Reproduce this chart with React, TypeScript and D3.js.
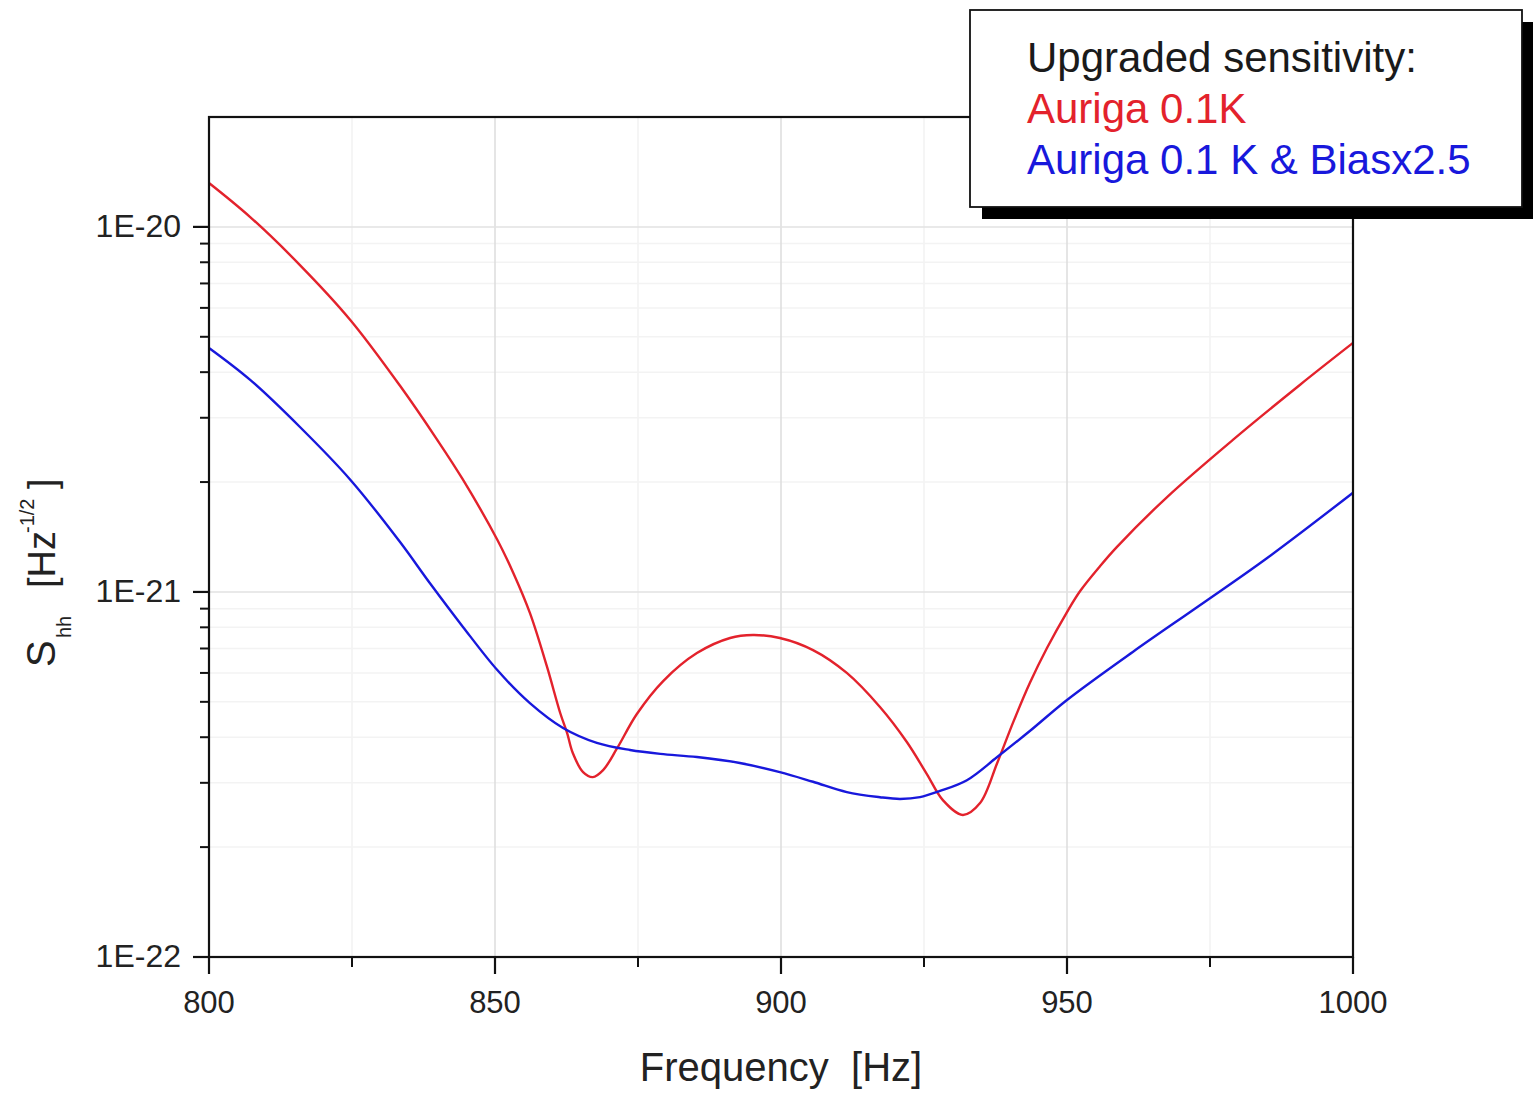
import React from "react";
import * as d3 from "d3";

const redFreq = [800, 807.2, 815.9, 824.7, 833.4, 839.9, 844.4, 850.4, 853.2, 856.1, 859.1, 861.4, 862.6, 863.6, 865.4, 867.1, 868.9, 871.3, 874.8, 879.4, 885.3, 891.1, 895.1, 899.8, 905.6, 911.5, 917.3, 922.0, 925.5, 928.3, 931.8, 934.8, 937.8, 940.6, 943.5, 946.5, 950.0, 952.3, 955.8, 958.7, 967.5, 979.0, 990.7, 1000];
const redValues = [1.319e-20, 1.064e-20, 7.86e-21, 5.56e-21, 3.67e-21, 2.61e-21, 2.03e-21, 1.39e-21, 1.127e-21, 8.76e-22, 6.23e-22, 4.66e-22, 4.11e-22, 3.62e-22, 3.21e-22, 3.11e-22, 3.25e-22, 3.72e-22, 4.63e-22, 5.70e-22, 6.80e-22, 7.48e-22, 7.62e-22, 7.48e-22, 6.93e-22, 6.00e-22, 4.84e-22, 3.88e-22, 3.17e-22, 2.69e-22, 2.45e-22, 2.64e-22, 3.40e-22, 4.40e-22, 5.63e-22, 7.02e-22, 8.81e-22, 1.006e-21, 1.178e-21, 1.327e-21, 1.82e-21, 2.61e-21, 3.69e-21, 4.81e-21];

const blueFreq = [800, 807.2, 815.9, 824.7, 833.4, 838.6, 844.4, 850.4, 856.1, 861.9, 867.8, 873.6, 878.9, 885.3, 892.8, 899.8, 905.6, 911.5, 917.3, 920.8, 924.3, 927.8, 932.5, 937.8, 943.5, 950.0, 961.5, 973.3, 985.0, 1000];
const blueValues = [4.66e-21, 3.81e-21, 2.83e-21, 2.03e-21, 1.37e-21, 1.058e-21, 8.02e-22, 6.11e-22, 4.96e-22, 4.24e-22, 3.86e-22, 3.69e-22, 3.60e-22, 3.53e-22, 3.40e-22, 3.21e-22, 3.02e-22, 2.83e-22, 2.74e-22, 2.71e-22, 2.74e-22, 2.85e-22, 3.05e-22, 3.53e-22, 4.16e-22, 5.06e-22, 6.85e-22, 9.21e-22, 1.239e-21, 1.87e-21];

const xMajorTicks = [800, 850, 900, 950, 1000];
const xMinorTicks = [825, 875, 925, 975];
const yMajorTicks = [1e-22, 1e-21, 1e-20];
const yMajorLabels = ["1E-22", "1E-21", "1E-20"];
const yMinorMultipliers = [2, 3, 4, 5, 6, 7, 8, 9];
const yMinorDecades = [1e-22, 1e-21];

const legendTitle = "Upgraded sensitivity:";
const seriesNames = ["Auriga 0.1K", "Auriga 0.1 K & Biasx2.5"];
const seriesColors = ["#e3222c", "#1818dc"];

const FONT = "'Liberation Sans', Arial, Helvetica, sans-serif";

export default function App() {
  const W = 1533, H = 1098;
  const left = 209, right = 1353, top = 117, bottom = 957;
  const x = d3.scaleLinear().domain([800, 1000]).range([left, right]);
  const y = d3.scaleLog().domain([1e-22, 2e-20]).range([bottom, top]);

  const yMinor: number[] = [];
  yMinorDecades.forEach((d) => yMinorMultipliers.forEach((m) => yMinor.push(d * m)));

  const line = d3
    .line<[number, number]>()
    .x((d) => x(d[0]))
    .y((d) => y(d[1]))
    .curve(d3.curveCatmullRom.alpha(0.5));

  const redData = redFreq.map((f, i) => [f, redValues[i]] as [number, number]);
  const blueData = blueFreq.map((f, i) => [f, blueValues[i]] as [number, number]);

  const textColor = "#222";

  return (
    <svg
      width={W}
      height={H}
      style={{ position: "absolute", left: 0, top: 0, background: "#fff" }}
      fontFamily={FONT}
    >
      <rect x={0} y={0} width={W} height={H} fill="#fff" />
      {/* minor grid */}
      {xMinorTicks.map((t) => (
        <line key={"gxm" + t} x1={x(t)} x2={x(t)} y1={top} y2={bottom} stroke="#f2f2f2" strokeWidth={1.5} />
      ))}
      {yMinor.map((t) => (
        <line key={"gym" + t} x1={left} x2={right} y1={y(t)} y2={y(t)} stroke="#f3f3f3" strokeWidth={1.5} />
      ))}
      {/* major grid */}
      {xMajorTicks.slice(1, -1).map((t) => (
        <line key={"gx" + t} x1={x(t)} x2={x(t)} y1={top} y2={bottom} stroke="#dcdcdc" strokeWidth={1.5} />
      ))}
      {yMajorTicks.slice(1).map((t) => (
        <line key={"gy" + t} x1={left} x2={right} y1={y(t)} y2={y(t)} stroke="#e2e2e2" strokeWidth={1.5} />
      ))}

      {/* curves */}
      <path d={line(redData) || ""} fill="none" stroke={seriesColors[0]} strokeWidth={2.4} strokeLinejoin="round" />
      <path d={line(blueData) || ""} fill="none" stroke={seriesColors[1]} strokeWidth={2.4} strokeLinejoin="round" />

      {/* frame */}
      <rect x={left} y={top} width={right - left} height={bottom - top} fill="none" stroke="#111" strokeWidth={2.2} />

      {/* x ticks */}
      {xMajorTicks.map((t) => (
        <g key={"xt" + t}>
          <line x1={x(t)} x2={x(t)} y1={bottom} y2={bottom + 17} stroke="#111" strokeWidth={2.2} />
          <text x={x(t)} y={1013} fontSize={31} textAnchor="middle" fill={textColor}>
            {t}
          </text>
        </g>
      ))}
      {xMinorTicks.map((t) => (
        <line key={"xmt" + t} x1={x(t)} x2={x(t)} y1={bottom} y2={bottom + 10} stroke="#111" strokeWidth={2} />
      ))}

      {/* y ticks */}
      {yMajorTicks.map((t, i) => (
        <g key={"yt" + t}>
          <line x1={left - 16} x2={left} y1={y(t)} y2={y(t)} stroke="#111" strokeWidth={2.2} />
          <text x={181} y={y(t) + 10} fontSize={32} textAnchor="end" fill={textColor}>
            {yMajorLabels[i]}
          </text>
        </g>
      ))}
      {yMinor.map((t) => (
        <line key={"ymt" + t} x1={left - 9} x2={left} y1={y(t)} y2={y(t)} stroke="#111" strokeWidth={2} />
      ))}

      {/* axis titles */}
      <text x={(left + right) / 2} y={1081} fontSize={40} textAnchor="middle" fill={textColor} style={{ whiteSpace: "pre" }}>
        {"Frequency  [Hz]"}
      </text>
      <text transform="translate(55,667) rotate(-90)" fill={textColor}>
        <tspan x={0} y={0} fontSize={40}>S</tspan>
        <tspan x={29} y={16} fontSize={20}>hh</tspan>
        <tspan x={79} y={0} fontSize={38}>[Hz</tspan>
        <tspan x={134} y={-21} fontSize={20}>-1/2</tspan>
        <tspan x={178} y={0} fontSize={38}>]</tspan>
      </text>

      {/* legend */}
      <rect x={982} y={22} width={552} height={197} fill="#000" />
      <rect x={970} y={10} width={552} height={197} fill="#fff" stroke="#111" strokeWidth={1.8} />
      <text x={1027} y={72} fontSize={42} fill="#1a1a1a">{legendTitle}</text>
      <text x={1027} y={123} fontSize={42} fill={seriesColors[0]}>{seriesNames[0]}</text>
      <text x={1027} y={174} fontSize={42} fill={seriesColors[1]}>{seriesNames[1]}</text>
    </svg>
  );
}
